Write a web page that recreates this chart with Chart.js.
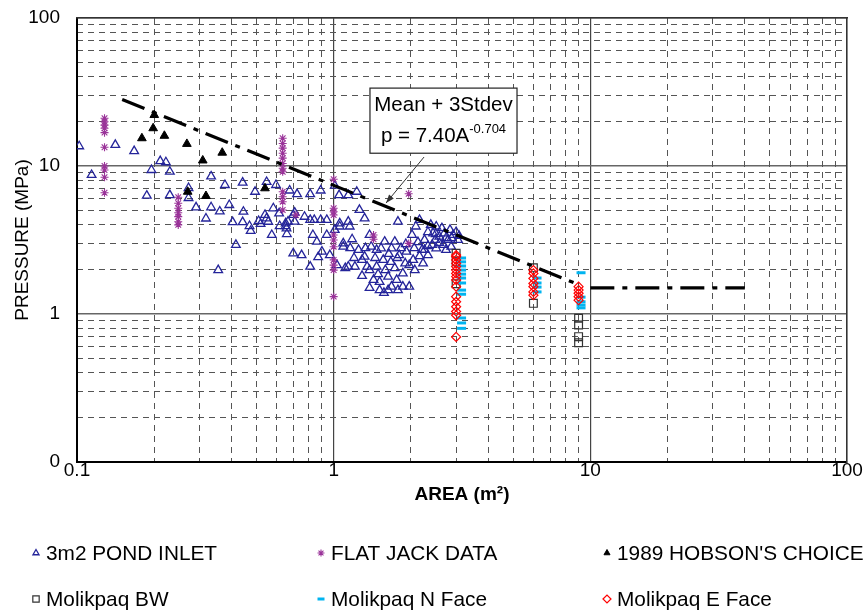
<!DOCTYPE html>
<html>
<head>
<meta charset="utf-8">
<title>Pressure vs Area</title>
<script src="https://cdn.jsdelivr.net/npm/chart.js@4.4.1/dist/chart.umd.min.js"></script>
<style>
  html, body { margin: 0; padding: 0; background: #fff; }
</style>
</head>
<body>
<canvas id="chart" width="866" height="614"></canvas>
<script>
// ---- axis ticks ----
const majorTicks = [0.1, 1, 10, 100];
const minorTicks = [0.2, 0.3, 0.4, 0.5, 0.6, 0.7, 0.8, 0.9,
                    2, 3, 4, 5, 6, 7, 8, 9,
                    20, 30, 40, 50, 60, 70, 80, 90];
const xTickLabels = ['0.1', '1', '10', '100'];
const yTickLabels = ['0', '1', '10', '100'];

// ---- 3m2 Pond Inlet ----
const pondArea = [
  0.102, 0.114, 0.141, 0.167, 0.211, 0.222, 0.195, 0.230, 0.187, 0.230,
  0.272, 0.272, 0.333, 0.377, 0.442, 0.291, 0.333, 0.360, 0.392, 0.445,
  0.318, 0.404, 0.442, 0.475, 0.416, 0.355, 0.494, 0.510, 0.519, 0.548,
  0.548, 0.556, 0.574, 0.582, 0.596, 0.613, 0.616, 0.650, 0.657, 0.674,
  0.705, 0.705, 0.696, 0.720, 0.810, 0.890, 1.010, 1.050, 1.140, 1.230,
  0.470, 0.540, 0.655, 0.664, 0.696, 0.750, 0.770, 0.810, 0.810, 0.830,
  0.840, 0.860, 0.870, 0.890, 0.900, 0.940, 0.940, 0.966, 1.010, 1.056,
  1.090, 1.140, 1.155, 1.260, 1.320, 1.380, 0.650, 1.056, 1.140, 1.090,
  1.180, 1.250, 1.320, 1.400, 1.530, 1.580, 1.680, 1.730, 1.800, 1.920,
  2.090, 2.260, 2.440, 2.510, 2.700, 2.920, 2.210, 2.040, 1.860, 1.760,
  1.630, 1.510, 1.430, 1.380, 1.970, 2.070, 2.230, 2.330, 2.510, 2.680,
  2.790, 2.870, 2.160, 2.390, 2.580, 1.780, 1.560, 1.470, 1.350, 1.290,
  1.030, 1.110, 1.210, 1.730, 1.900, 1.630, 1.510, 1.680, 1.860, 2.330,
  2.490, 2.640, 2.840, 3.000, 3.050, 2.740, 2.420, 2.260, 2.130, 2.020,
  1.910, 1.770, 1.970, 2.580, 2.880, 3.080, 2.740, 2.500, 2.330, 2.160,
  2.060, 1.830, 1.670, 1.590, 1.490, 1.780, 1.570, 1.380, 1.290, 1.200,
  1.450, 1.640, 1.470, 1.330, 1.160
];
const pondPressure = [
  13.6, 8.7, 13.9, 12.6, 10.8, 10.6, 9.4, 9.15, 6.3, 6.36,
  7.1, 6.08, 8.5, 7.44, 7.72, 5.25, 5.26, 4.93, 5.45, 4.91,
  4.42, 4.18, 4.18, 3.64, 2.93, 1.98, 6.7, 4.25, 4.06, 7.8,
  4.43, 4.2, 3.42, 5.18, 7.44, 4.79, 3.93, 3.93, 3.47, 6.83,
  4.84, 4.21, 2.57, 6.46, 6.46, 6.83, 7.36, 6.36, 6.36, 6.7,
  3.93, 4.67, 3.79, 4.21, 4.67, 2.5, 4.54, 2.09, 4.32, 3.42,
  4.32, 3.08, 2.42, 4.32, 2.64, 4.32, 3.42, 2.5, 3.7, 3.9,
  3.0, 2.09, 3.9, 5.05, 4.43, 3.42, 4.1, 4.1, 4.21, 2.85,
  3.2, 2.71, 2.44, 2.85, 2.78, 3.08, 2.78, 3.08, 2.5, 2.64,
  3.9, 3.17, 3.51, 3.9, 3.51, 3.42, 2.71, 2.32, 1.88, 1.70,
  1.45, 1.45, 1.70, 1.98, 1.53, 1.98, 2.2, 2.5, 2.78, 2.93,
  3.17, 2.85, 4.32, 4.0, 3.33, 4.21, 2.32, 2.09, 2.09, 2.32,
  2.14, 2.04, 2.09, 2.04, 2.2, 1.79, 1.65, 1.53, 1.53, 3.58,
  3.17, 3.8, 3.7, 3.58, 3.17, 2.71, 2.93, 2.71, 3.06, 3.42,
  2.97, 2.39, 2.14, 3.02, 3.26, 3.37, 3.26, 3.47, 2.88, 2.46,
  2.79, 2.79, 2.25, 1.98, 1.86, 1.45, 1.39, 1.50, 1.81, 2.39,
  2.39, 2.55, 2.71, 2.79, 2.79
];

// ---- flat jack data ----
const flatArea = [
  0.128, 0.128, 0.128, 0.128, 0.128, 0.128, 0.128, 0.128, 0.128, 0.128,
  0.248, 0.248, 0.248, 0.248, 0.248, 0.248, 0.248,
  0.633, 0.633, 0.633, 0.633, 0.633, 0.633, 0.633, 0.633, 0.633, 0.633, 0.633, 0.633,
  0.713,
  1.0, 1.0, 1.0, 1.0, 1.0, 1.0, 1.0, 1.0, 1.0, 1.0, 1.0,
  1.43, 1.43,
  1.96, 1.96
];
const flatPressure = [
  21.0, 19.9, 18.9, 18.0, 16.8, 13.4, 10.0, 9.4, 8.4, 6.6,
  6.15, 5.6, 5.18, 4.83, 4.55, 4.2, 4.0,
  15.4, 14.2, 13.2, 12.2, 11.3, 10.4, 9.65, 9.15, 6.7, 6.2, 5.74, 5.04,
  4.67,
  8.13, 5.18, 4.91, 4.67, 3.42, 3.16, 2.85, 2.32, 2.14, 1.98, 1.31,
  3.42, 3.2,
  6.5, 3.0
];

// ---- 1989 Hobson's Choice ----
const hobsonArea = [0.2, 0.198, 0.179, 0.219, 0.268, 0.309, 0.368, 0.27, 0.318, 0.54];
const hobsonPressure = [22.1, 18.0, 15.4, 16.0, 14.1, 10.9, 12.3, 6.7, 6.27, 7.07];

// ---- Molikpaq panels ----
const bwArea = [3, 3, 3, 6, 6, 9, 9, 9, 9];
const bwPressure = [2.57, 2.25, 1.6, 2.05, 1.18, 0.935, 0.843, 0.703, 0.64];

const nFaceArea = [3.15, 3.15, 3.15, 3.15, 3.15, 3.15, 3.15, 3.15, 3.15, 3.15, 3.15, 3.15,
                   6.2, 6.2, 6.2, 6.2,
                   9.2, 9.2, 9.2, 9.2, 9.2];
const nFacePressure = [2.39, 2.25, 2.11, 1.98, 1.86, 1.75, 1.62, 1.45, 1.36, 0.94, 0.87, 0.80,
                       1.75, 1.62, 1.52, 1.41,
                       1.90, 1.30, 1.21, 1.15, 1.10];

const eFaceArea = [3, 3, 3, 3, 3, 3, 3, 3, 3, 3, 3, 3, 3, 3, 3, 3,
                   6, 6, 6, 6, 6, 6, 6,
                   9, 9, 9, 9, 9];
const eFacePressure = [2.5, 2.44, 2.32, 2.2, 2.09, 1.98, 1.88, 1.79, 1.70, 1.53, 1.31, 1.21, 1.12, 1.04, 0.98, 0.70,
                       1.98, 1.88, 1.74, 1.61, 1.53, 1.41, 1.34,
                       1.53, 1.45, 1.38, 1.31, 1.24];

// ---- Mean + 3Stdev design curve, p = 7.40 A^-0.704, capped beyond 10 m2 ----
const curveArea = [0.15, 9.0];
const curvePressure = [28.1, 1.58];
const capArea = [10, 40];
const capPressure = [1.5, 1.5];

const pairs = (xs, ys) => xs.map((x, i) => ({ x: x, y: ys[i] }));

const FONT = '"Liberation Sans", Arial, sans-serif';
Chart.defaults.font.family = FONT;
Chart.defaults.color = '#000';

// legend slots: [column, row]
const legendCols = [36, 321, 607];
const legendRows = [553, 599];

const gridLegend = {
  id: 'gridLegend',
  afterDraw(chart) {
    const ctx = chart.ctx;
    ctx.save();
    ctx.font = '20.8px ' + FONT;
    ctx.textBaseline = 'middle';
    ctx.textAlign = 'left';
    chart.data.datasets.forEach(ds => {
      if (!ds.slot) return;
      const x = legendCols[ds.slot[0]];
      const y = legendRows[ds.slot[1]];
      ctx.strokeStyle = ds.borderColor;
      ctx.fillStyle = ds.backgroundColor;
      ctx.lineWidth = ds.borderWidth;
      Chart.helpers.drawPoint(ctx, {
        pointStyle: ds.pointStyle, rotation: 0,
        radius: ds.legendRadius, borderWidth: ds.borderWidth
      }, x, y);
      ctx.fillStyle = '#000';
      ctx.fillText(ds.label, x + 10, y + 1);
    });
    ctx.restore();
  }
};

// text box and leader arrow for the design curve
const curveNote = {
  id: 'curveNote',
  afterDatasetsDraw(chart) {
    const { ctx, scales: { x, y } } = chart;
    const left = x.getPixelForValue(1.385), right = x.getPixelForValue(5.18);
    const top = y.getPixelForValue(33.6), bottom = y.getPixelForValue(12.2);
    ctx.save();
    ctx.fillStyle = '#fff';
    ctx.fillRect(left, top, right - left, bottom - top);
    ctx.strokeStyle = '#222';
    ctx.lineWidth = 1.2;
    ctx.strokeRect(left, top, right - left, bottom - top);

    const cx = (left + right) / 2;
    ctx.fillStyle = '#000';
    ctx.textBaseline = 'middle';
    ctx.textAlign = 'center';
    ctx.font = '20.5px ' + FONT;
    ctx.fillText('Mean + 3Stdev', cx, top + 17);

    const main = 'p = 7.40A', sup = '-0.704';
    const mainW = ctx.measureText(main).width;
    ctx.font = '13px ' + FONT;
    const supW = ctx.measureText(sup).width;
    const sx = cx - (mainW + supW) / 2;
    ctx.textAlign = 'left';
    ctx.font = '20.5px ' + FONT;
    ctx.fillText(main, sx, top + 48);
    ctx.font = '13px ' + FONT;
    ctx.fillText(sup, sx + mainW, top + 41);

    // arrow pointing at the curve
    const x0 = x.getPixelForValue(2.25), y0 = y.getPixelForValue(11.5);
    const x1 = x.getPixelForValue(1.6), y1 = y.getPixelForValue(5.62);
    const ang = Math.atan2(y1 - y0, x1 - x0);
    ctx.strokeStyle = '#333';
    ctx.lineWidth = 1;
    ctx.beginPath();
    ctx.moveTo(x0, y0);
    ctx.lineTo(x1, y1);
    ctx.stroke();
    ctx.fillStyle = '#333';
    ctx.beginPath();
    ctx.moveTo(x1, y1);
    ctx.lineTo(x1 - 9 * Math.cos(ang - 0.35), y1 - 9 * Math.sin(ang - 0.35));
    ctx.lineTo(x1 - 9 * Math.cos(ang + 0.35), y1 - 9 * Math.sin(ang + 0.35));
    ctx.closePath();
    ctx.fill();
    ctx.restore();
  }
};

const setMajor = s => { s.ticks = majorTicks.map(v => ({ value: v })); };
const setMinor = s => { s.ticks = minorTicks.map(v => ({ value: v })); };
// fixed axis box size, no extra room asked for overhanging labels
const fixSize = (w, h) => s => {
  if (w !== null) s.width = w;
  if (h !== null) s.height = h;
  s.paddingTop = s.paddingBottom = s.paddingLeft = s.paddingRight = 0;
};
const logAxis = extra => Object.assign({ type: 'logarithmic', min: 0.1, max: 100 }, extra);
const dashedGrid = {
  ticks: { display: false, autoSkip: false },
  grid: { color: '#555', lineWidth: 1, drawTicks: false },
  border: { display: false, dash: [6, 5] },
  afterBuildTicks: setMinor
};
const frameOnly = {
  ticks: { display: false },
  grid: { drawOnChartArea: false, drawTicks: false },
  border: { color: '#333', width: 1.5 }
};

new Chart(document.getElementById('chart'), {
  type: 'scatter',
  data: {
    datasets: [
      {
        label: 'Mean + 3Stdev', data: pairs(curveArea, curvePressure), showLine: true,
        borderColor: '#000', borderWidth: 3.2, borderDash: [24, 8, 5, 8], pointRadius: 0, order: 0
      },
      {
        label: 'cap', data: pairs(capArea, capPressure), showLine: true,
        borderColor: '#000', borderWidth: 3.2, borderDash: [24, 8, 5, 8], pointRadius: 0, order: 0
      },
      {
        label: 'Molikpaq E Face', data: pairs(eFaceArea, eFacePressure),
        pointStyle: 'rectRot', pointRadius: 4.5, borderWidth: 1.2,
        borderColor: '#FF0000', backgroundColor: 'rgba(0,0,0,0)',
        order: 1, slot: [2, 1], legendRadius: 4
      },
      {
        label: 'Molikpaq N Face', data: pairs(nFaceArea, nFacePressure),
        pointStyle: 'line', pointRadius: 4.5, borderWidth: 3,
        borderColor: '#00B4F0', backgroundColor: '#00B4F0',
        order: 2, slot: [1, 1], legendRadius: 3.5
      },
      {
        label: 'Molikpaq BW', data: pairs(bwArea, bwPressure),
        pointStyle: 'rect', pointRadius: 5.5, borderWidth: 1.2,
        borderColor: '#333', backgroundColor: 'rgba(0,0,0,0)',
        order: 3, slot: [0, 1], legendRadius: 4.5
      },
      {
        label: "1989 HOBSON'S CHOICE", data: pairs(hobsonArea, hobsonPressure),
        pointStyle: 'triangle', pointRadius: 5, borderWidth: 1,
        borderColor: '#000', backgroundColor: '#000',
        order: 4, slot: [2, 0], legendRadius: 3.5
      },
      {
        label: 'FLAT JACK DATA', data: pairs(flatArea, flatPressure),
        pointStyle: 'star', pointRadius: 4, borderWidth: 1.1,
        borderColor: '#9A3399', backgroundColor: '#9A3399',
        order: 5, slot: [1, 0], legendRadius: 3.5
      },
      {
        label: '3m2 POND INLET', data: pairs(pondArea, pondPressure),
        pointStyle: 'triangle', pointRadius: 5, borderWidth: 1.3,
        borderColor: '#24249A', backgroundColor: 'rgba(0,0,0,0)',
        order: 6, slot: [0, 0], legendRadius: 3.5
      }
    ]
  },
  options: {
    responsive: false,
    animation: false,
    layout: { autoPadding: false, padding: { left: 0, top: 18, right: 19, bottom: 102 } },
    plugins: { legend: { display: false }, tooltip: { enabled: false } },
    scales: {
      x: logAxis({
        position: 'bottom',
        afterBuildTicks: setMajor,
        afterFit: fixSize(null, 50),
        ticks: { callback: (v, i) => xTickLabels[i], padding: -3, maxRotation: 0, autoSkip: false, font: { size: 19 } },
        grid: { color: '#444', lineWidth: 1.2, drawTicks: false },
        border: { color: '#000', width: 2 },
        title: { display: true, text: 'AREA (m²)', font: { size: 19, weight: 'bold' }, padding: { bottom: 6 } }
      }),
      y: logAxis({
        position: 'left',
        afterBuildTicks: setMajor,
        afterFit: fixSize(77, null),
        ticks: { callback: (v, i) => yTickLabels[i], padding: 17, autoSkip: false, font: { size: 19 } },
        grid: { color: '#666', lineWidth: 1.5, drawTicks: false },
        border: { color: '#000', width: 2 },
        title: { display: true, text: 'PRESSURE (MPa)', font: { size: 19 }, padding: { top: 11 } }
      }),
      xMinor: logAxis(Object.assign({ position: 'bottom', afterFit: fixSize(null, 0) }, dashedGrid)),
      yMinor: logAxis(Object.assign({ position: 'left', afterFit: fixSize(0, null) }, dashedGrid)),
      xTop: logAxis(Object.assign({ position: 'top', afterFit: fixSize(null, 0) }, frameOnly)),
      yRight: logAxis(Object.assign({ position: 'right', afterFit: fixSize(0, null) }, frameOnly))
    }
  },
  plugins: [curveNote, gridLegend]
});
</script>
</body>
</html>
